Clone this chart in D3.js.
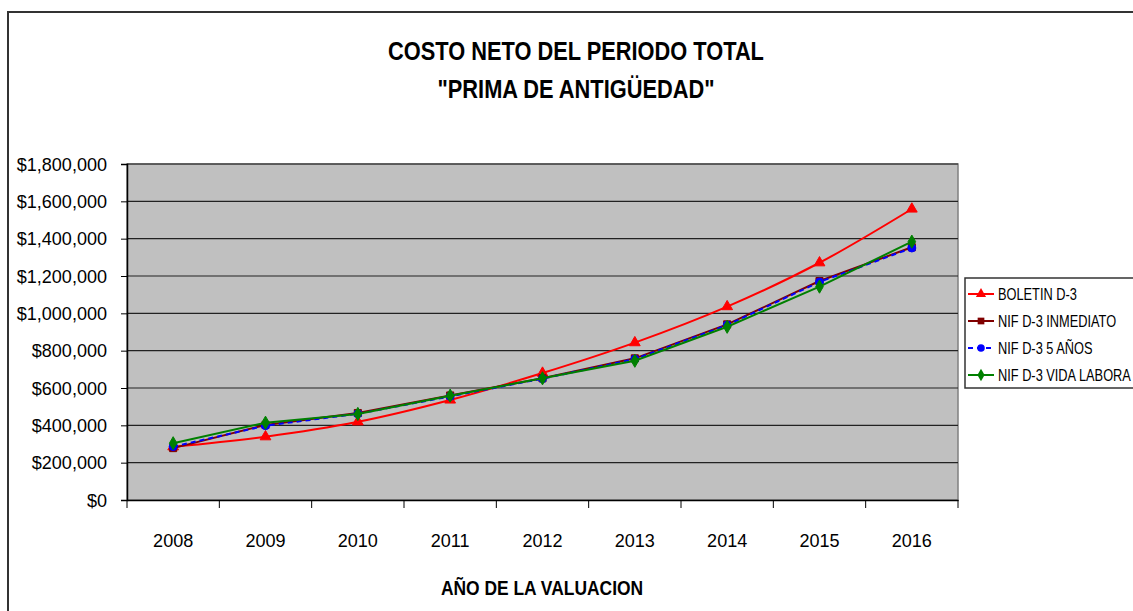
<!DOCTYPE html>
<html>
<head>
<meta charset="utf-8">
<script src="https://cdn.jsdelivr.net/npm/d3@7"></script>
<style>
  body { margin: 0; background: #fff; }
  text { font-family: "Liberation Sans Narrow", "Arial Narrow", "Liberation Sans", Arial, sans-serif; fill: #000; }
</style>
</head>
<body>
<div id="chart"></div>
<script>
// Chart data
const years = ["2008", "2009", "2010", "2011", "2012", "2013", "2014", "2015", "2016"];
const boletin = [285000, 339000, 419000, 536000, 680000, 843000, 1036000, 1271000, 1559000];
const nifInmediato = [278000, 402000, 466000, 560000, 652000, 759000, 941000, 1173000, 1354000];
const nif5Anos = [286000, 398000, 462000, 555000, 650000, 755000, 937000, 1168000, 1350000];
const nifVidaLaboral = [304000, 414000, 461000, 559000, 652000, 746000, 928000, 1143000, 1384000];
const seriesNames = ["BOLETIN D-3", "NIF D-3 INMEDIATO", "NIF D-3 5 AÑOS", "NIF D-3 VIDA LABORA"];
const yTicks = [0, 200000, 400000, 600000, 800000, 1000000, 1200000, 1400000, 1600000, 1800000];

const width = 1133, height = 611;
const plot = { left: 127, right: 958, top: 164, bottom: 500 };

const svg = d3.select("#chart").append("svg")
  .attr("width", width)
  .attr("height", height);

// narrow-looking text: regular font squeezed horizontally
function narrowText(g, x, y, str, size, sx, anchor, bold) {
  return g.append("text")
    .attr("transform", `translate(${x},${y}) scale(${sx},1)`)
    .attr("text-anchor", anchor || "start")
    .attr("font-size", size)
    .attr("font-weight", bold ? "bold" : "normal")
    .text(str);
}

// Outer chart border
svg.append("rect")
  .attr("x", 8).attr("y", 12)
  .attr("width", 1140).attr("height", 620)
  .attr("fill", "none")
  .attr("stroke", "#333")
  .attr("stroke-width", 2);

// Title
narrowText(svg, 576, 60, "COSTO NETO DEL PERIODO TOTAL", 25.5, 0.855, "middle", true);
narrowText(svg, 576, 98, "\"PRIMA DE ANTIGÜEDAD\"", 25.5, 0.855, "middle", true);

const x = d3.scaleBand()
  .domain(years)
  .range([plot.left, plot.right]);

const y = d3.scaleLinear()
  .domain([0, 1800000])
  .range([plot.bottom, plot.top]);

// Plot background
svg.append("rect")
  .attr("x", plot.left).attr("y", plot.top)
  .attr("width", plot.right - plot.left)
  .attr("height", plot.bottom - plot.top)
  .attr("fill", "#c0c0c0")
  .attr("stroke", "#808080")
  .attr("stroke-width", 1.5);

// Gridlines
svg.append("g")
  .selectAll("line")
  .data(yTicks.slice(1))
  .enter()
  .append("line")
  .attr("x1", plot.left).attr("x2", plot.right)
  .attr("y1", d => y(d)).attr("y2", d => y(d))
  .attr("stroke", "#222")
  .attr("stroke-width", 1.2);

// Y axis
const fmt = d3.format(",");
const yAxis = svg.append("g")
  .attr("transform", `translate(${plot.left},0)`)
  .call(d3.axisLeft(y).tickValues(yTicks).tickSize(6).tickPadding(14)
    .tickFormat(d => "$" + fmt(d)));
yAxis.select(".domain").attr("stroke", "#000").attr("stroke-width", 1.5);
yAxis.selectAll(".tick line").attr("stroke", "#000");
yAxis.selectAll("text")
  .attr("font-size", 19)
  .attr("x", -20 / 0.95)
  .attr("transform", "scale(0.95,1)")
  .attr("font-family", "'Liberation Sans Narrow', 'Arial Narrow', 'Liberation Sans', sans-serif");

// X axis
const xAxis = svg.append("g")
  .attr("transform", `translate(0,${plot.bottom})`)
  .call(d3.axisBottom(x).tickSize(0).tickPadding(34));
xAxis.select(".domain").attr("stroke", "#000").attr("stroke-width", 1.5);
xAxis.selectAll("text")
  .attr("font-size", 19)
  .attr("transform", "scale(0.95,1)")
  .attr("font-family", "'Liberation Sans Narrow', 'Arial Narrow', 'Liberation Sans', sans-serif");

// Tick marks between categories
const bounds = years.map(d => x(d)).concat([plot.right]);
svg.append("g")
  .selectAll("line")
  .data(bounds)
  .enter()
  .append("line")
  .attr("x1", d => d).attr("x2", d => d)
  .attr("y1", plot.bottom).attr("y2", plot.bottom + 8)
  .attr("stroke", "#000");

// X axis title
narrowText(svg, 542, 595, "AÑO DE LA VALUACION", 21, 0.83, "middle", true);

// Series
const series = [
  { name: seriesNames[0], values: boletin, color: "#ff0000", marker: d3.symbolTriangle, dash: null, curve: d3.curveCatmullRom },
  { name: seriesNames[1], values: nifInmediato, color: "#800000", marker: d3.symbolSquare, dash: null, curve: d3.curveLinear },
  { name: seriesNames[2], values: nif5Anos, color: "#0000ff", marker: d3.symbolCircle, dash: "5,4", curve: d3.curveLinear },
  { name: seriesNames[3], values: nifVidaLaboral, color: "#008000", marker: d3.symbolDiamond, dash: null, curve: d3.curveLinear }
];

const cx = d => x(d) + x.bandwidth() / 2;

series.forEach(s => {
  const line = d3.line()
    .x((d, i) => cx(years[i]))
    .y(d => y(d))
    .curve(s.curve);

  svg.append("path")
    .datum(s.values)
    .attr("d", line)
    .attr("fill", "none")
    .attr("stroke", s.color)
    .attr("stroke-width", 2)
    .attr("stroke-dasharray", s.dash);

  svg.append("g")
    .selectAll("path")
    .data(s.values)
    .enter()
    .append("path")
    .attr("d", d3.symbol().type(s.marker).size(50))
    .attr("transform", (d, i) => `translate(${cx(years[i])},${y(d)})`)
    .attr("fill", s.color)
    .attr("stroke", s.color);
});

// Legend
const legend = svg.append("g");
legend.append("rect")
  .attr("x", 965).attr("y", 278)
  .attr("width", 200).attr("height", 110)
  .attr("fill", "#fff")
  .attr("stroke", "#333")
  .attr("stroke-width", 1.5);

const legendY = d3.scalePoint()
  .domain(seriesNames)
  .range([294, 375]);

series.forEach(s => {
  const ly = legendY(s.name);
  legend.append("line")
    .attr("x1", 968).attr("x2", 994)
    .attr("y1", ly).attr("y2", ly)
    .attr("stroke", s.color)
    .attr("stroke-width", 2)
    .attr("stroke-dasharray", s.dash);
  legend.append("path")
    .attr("d", d3.symbol().type(s.marker).size(45))
    .attr("transform", `translate(981,${ly})`)
    .attr("fill", s.color);
  narrowText(legend, 998, ly + 6, s.name, 16, 0.8, "start", false);
});
</script>
</body>
</html>
